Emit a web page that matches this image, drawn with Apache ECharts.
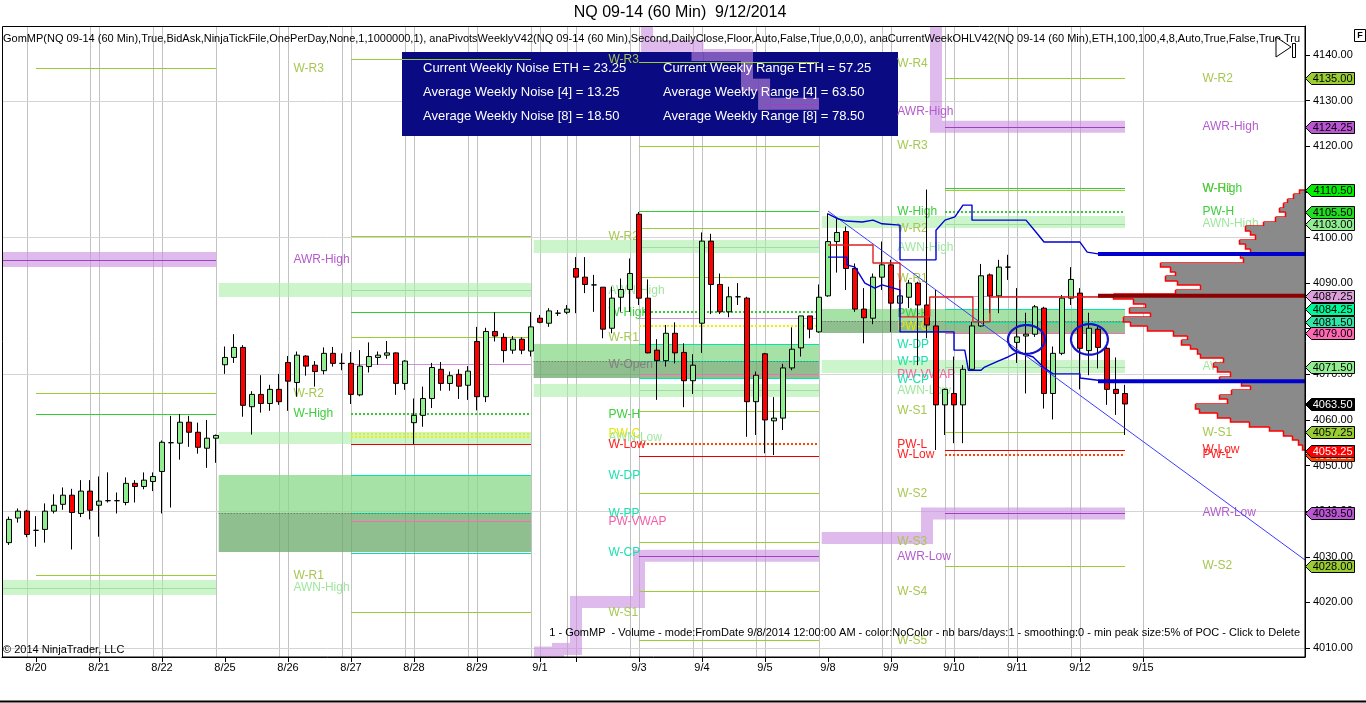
<!DOCTYPE html>
<html><head><meta charset="utf-8">
<script src="https://cdn.jsdelivr.net/npm/echarts/dist/echarts.min.js"></script>
<style>html,body{margin:0;padding:0;background:#fff;overflow:hidden}#c{width:1366px;height:703px}</style>
</head><body><div id="c"></div>
<script>
// ---------------- DATA ----------------
const dayTickIdx = [3,10,17,24,31,38,45,52,59,70,77,84,91,98,105,112,119,126];
const dayLabels  = ['8/20','8/21','8/22','8/25','8/26','8/27','8/28','8/29','9/1','9/3','9/4','9/5','9/8','9/9','9/10','9/11','9/12','9/15'];
const extraTickIdx = [63];
const sessionBreakIdx = [2,9,16,23,30,37,44,51,58,62,69,76,83,90,97,104,111,118];
const dayGridIdx = [10,17,31,38,45,52,59,63,70,77,84,98,105,112,119,126];
const priceTicks = [4010,4020,4030,4040,4050,4060,4070,4080,4090,4100,4110,4120,4130,4140];
const priceGrid = [4010,4040,4070,4100,4130];

// 60-min bars: [open, close, low, high]
const candles = [
[4033.1,4038.2,4032.6,4038.8],[4038.5,4040.0,4037.5,4040.6],[4040.0,4034.9,4034.3,4040.3],[4035.8,4035.8,4032.2,4038.9],
[4036.0,4040.0,4033.1,4041.7],[4040.0,4041.3,4039.5,4043.7],[4041.5,4043.5,4040.3,4045.2],[4043.5,4039.7,4031.6,4044.9],
[4039.5,4044.4,4038.7,4046.8],[4044.4,4040.2,4038.2,4046.8],[4041.3,4042.2,4034.4,4047.6],[4042.3,4042.3,4041.9,4048.5],
[4042.3,4042.3,4039.5,4044.1],[4041.9,4046.1,4041.3,4047.4],[4046.1,4045.4,4041.9,4046.8],[4045.4,4046.8,4044.8,4048.5],
[4046.5,4047.6,4044.4,4048.5],[4048.7,4055.1,4039.5,4055.5],[4055.0,4055.0,4040.8,4060.9],[4054.9,4059.5,4051.3,4061.3],
[4059.5,4057.3,4054.1,4060.9],[4057.3,4054.0,4052.6,4059.4],[4053.8,4056.0,4049.5,4060.0],[4056.0,4056.6,4050.6,4056.8],
[4072.1,4073.7,4070.1,4076.1],[4073.7,4075.9,4072.5,4078.8],[4075.9,4063.2,4060.7,4076.4],[4062.9,4065.6,4056.8,4066.3],
[4065.6,4063.6,4061.6,4069.8],[4063.6,4066.7,4062.0,4067.7],[4066.7,4064.0,4063.3,4070.1],[4072.6,4068.5,4062.0,4074.0],
[4068.2,4074.2,4065.1,4075.0],[4074.0,4071.8,4069.7,4074.2],[4072.0,4070.6,4067.3,4072.9],[4070.8,4074.6,4070.0,4075.9],
[4074.6,4072.4,4071.7,4076.0],[4072.4,4072.4,4070.9,4074.6],[4072.4,4065.6,4063.5,4074.9],[4065.5,4071.8,4065.2,4075.3],
[4071.7,4073.9,4070.4,4077.0],[4073.7,4074.2,4072.1,4075.0],[4074.2,4074.7,4073.4,4077.3],[4074.7,4068.0,4065.5,4074.8],
[4068.0,4072.9,4066.6,4073.1],[4059.4,4061.0,4054.7,4064.7],[4061.0,4064.7,4058.5,4067.3],[4064.7,4071.5,4062.6,4072.5],
[4071.1,4068.0,4066.4,4072.7],[4068.0,4069.7,4066.4,4070.6],[4070.0,4067.4,4064.6,4071.1],[4067.6,4070.7,4064.4,4071.8],
[4077.2,4065.1,4062.1,4080.4],[4065.1,4079.4,4063.9,4080.2],[4079.4,4078.4,4077.2,4083.6],[4078.1,4075.2,4072.6,4079.0],
[4075.3,4077.7,4074.5,4078.4],[4077.7,4075.3,4074.4,4078.1],[4075.1,4080.4,4073.9,4083.6],[4082.3,4081.4,4081.2,4083.0],
[4081.2,4083.9,4080.4,4084.5],[4083.4,4083.4,4082.8,4084.1],[4083.6,4084.3,4083.2,4085.2],[4093.2,4091.3,4083.4,4095.7],
[4091.3,4089.7,4087.8,4095.7],[4089.6,4089.6,4083.7,4091.8],[4089.1,4079.9,4077.9,4089.1],[4080.1,4086.7,4079.0,4089.2],
[4086.9,4088.6,4083.7,4091.0],[4088.6,4092.1,4083.7,4095.4],[4105.1,4086.7,4085.2,4105.6],[4086.7,4074.7,4074.6,4090.8],
[4075.3,4073.0,4064.4,4077.7],[4073.0,4079.0,4071.7,4080.8],[4079.0,4074.7,4072.4,4081.4],[4074.8,4068.6,4062.8,4076.8],
[4068.6,4072.0,4065.7,4074.4],[4081.2,4099.2,4074.7,4101.1],[4099.2,4089.7,4083.2,4100.8],[4089.7,4083.7,4083.2,4092.1],
[4083.7,4087.0,4082.5,4089.2],[4087.0,4087.0,4085.2,4090.0],[4086.7,4064.0,4056.3,4087.0],[4064.0,4069.8,4056.7,4070.6],
[4074.5,4060.0,4052.7,4074.7],[4059.8,4060.4,4052.3,4065.0],[4060.4,4071.4,4057.8,4072.3],[4071.4,4075.5,4070.9,4080.3],
[4075.8,4082.8,4073.9,4082.8],[4082.8,4079.9,4077.9,4082.8],[4079.3,4086.9,4079.1,4089.7],[4087.2,4099.1,4087.0,4105.3],
[4099.1,4101.1,4092.3,4104.2],[4101.3,4093.2,4088.5,4102.4],[4093.2,4084.3,4083.7,4094.3],[4084.3,4082.4,4076.8,4088.9],
[4082.3,4091.3,4081.0,4092.1],[4091.3,4094.0,4088.5,4099.1],[4094.0,4085.6,4079.3,4095.1],[4085.6,4087.2,4083.7,4090.7],
[4086.9,4090.0,4084.5,4090.7],[4090.0,4085.2,4072.0,4090.3],[4085.2,4080.8,4077.9,4110.5],[4080.6,4063.3,4053.4,4088.5],
[4063.3,4066.7,4056.7,4066.9],[4065.8,4063.3,4054.9,4073.9],[4063.3,4071.1,4054.9,4072.0],[4071.1,4080.6,4070.9,4081.5],
[4080.6,4091.6,4080.4,4094.2],[4091.8,4087.2,4083.4,4092.1],[4087.2,4093.5,4083.4,4095.1],[4093.5,4093.5,4090.7,4096.2],
[4077.0,4078.2,4072.5,4088.9],[4078.4,4078.8,4065.8,4083.5],[4078.8,4084.8,4078.2,4085.2],[4084.5,4065.8,4062.5,4084.8],
[4065.8,4074.6,4060.1,4076.1],[4074.6,4086.7,4074.2,4087.4],[4086.7,4090.8,4085.2,4093.5],[4087.8,4075.7,4066.7,4088.9],
[4075.2,4080.1,4069.8,4083.5],[4079.9,4075.9,4071.3,4080.4],[4075.7,4066.7,4063.3,4076.1],[4066.7,4065.8,4061.1,4073.7],
[4065.8,4063.5,4056.7,4067.7]
];

// weekly pivot spans (bar index): lines run Wed..Fri, zones Mon..Fri
const weekLineSpan = [[3,23],[38,58],[70,90],[104,124]];
const weekZoneSpan = [[-0.8,23],[23.3,58],[58.3,90],[90.3,124]];
const weekLabelIdx = [31.6,66.6,98.7,132.6];

// [price, kind]
const w1Levels = [[4137.1,'olive'],[4065.8,'olive'],[4061.2,'green'],[4026.0,'olive']];
const w2Levels = [[4139.1,'olive'],[4100.3,'olive'],[4088.5,'ltgreen'],[4083.6,'green'],[4078.2,'olive'],[4072.2,'lavender'],
  [4061.2,'greenDot'],[4057.0,'yellowDot'],[4056.2,'yellowDot'],[4054.7,'red'],[4047.9,'teal'],[4039.7,'teal'],
  [4037.8,'pink'],[4030.9,'teal'],[4017.8,'olive']];
const w3Levels = [[4138.5,'olive'],[4120.1,'olive'],[4105.8,'green'],[4102.0,'olive'],[4098.0,'ltgreen'],[4091.3,'olive'],
  [4083.6,'greenDot'],[4082.3,'lavender'],[4080.6,'yellowDot'],[4076.6,'teal'],[4072.9,'teal'],[4070.0,'pink'],
  [4069.1,'teal'],[4066.5,'ltgreen'],[4062.0,'olive'],[4054.7,'orangeDot'],[4052.2,'red'],[4043.9,'olive'],
  [4033.2,'olive'],[4022.5,'olive'],[4011.8,'olive']];
const w4Levels = [[4135.0,'olive'],[4110.9,'green'],[4110.3,'olive'],[4105.5,'greenDot'],[4103.0,'ltgreen'],
  [4087.25,'lavender'],[4084.25,'teal'],[4081.5,'teal'],[4079.0,'pink'],[4071.5,'ltgreen'],[4057.25,'olive'],
  [4053.4,'red'],[4052.4,'orangeDot'],[4028.0,'olive']];

// [low, high, kind]
const w1Zones = [[4093.5,4096.8,'purpleBand'],[4021.6,4024.9,'band']];
const w2Zones = [[4087.0,4090.0,'band'],[4054.7,4057.4,'band'],[4039.6,4047.9,'zoneMid'],[4031.0,4039.6,'zoneDark']];
const w3Zones = [[4096.6,4099.4,'band'],[4072.9,4076.6,'zoneMid'],[4069.3,4072.9,'zoneDark'],[4065.1,4067.8,'band']];
const w4Zones = [[4102.0,4104.7,'band'],[4081.6,4084.25,'zoneMid'],[4079.0,4081.6,'zoneDark'],[4070.2,4073.1,'band']];
// [price, kind] lines over whole zone span
const w1ZoneLines = [[4095.1,'purple'],[4023.2,'ltgreen']];
const w2ZoneLines = [[4039.6,'grayDot']];
const w3ZoneLines = [[4072.9,'grayDot']];
const w4ZoneLines = [[4081.6,'grayDot']];

// [text, price, colour key]
const w1Labels = [['W-R3',4136.9,'olive'],['AWR-High',4095.1,'purple'],['W-R2',4065.7,'olive'],['W-High',4061.3,'green'],
  ['W-R1',4025.8,'olive'],['AWN-High',4023.2,'ltgreen']];
const w2Labels = [['W-R3',4138.9,'olive'],['W-R2',4100.1,'olive'],['AWN-High',4088.3,'ltgreen'],['W-High',4083.5,'green'],
  ['W-R1',4078.1,'olive'],['W-Open',4072.1,'gray'],['PW-H',4061.1,'green'],['PW-C',4056.9,'yellow'],['AWN-Low',4056.0,'ltgreen'],
  ['W-Low',4054.5,'red'],['W-DP',4047.7,'teal'],['W-PP',4039.5,'teal'],['PW-VWAP',4037.7,'pink'],['W-CP',4030.9,'teal'],
  ['W-S1',4017.7,'olive']];
const w3Labels = [['W-R4',4138.2,'olive'],['AWR-High',4127.6,'purple'],['W-R3',4120.1,'olive'],['W-High',4105.65,'green'],
  ['W-R2',4101.85,'olive'],['AWN-High',4097.75,'ltgreen'],['W-R1',4091.05,'olive'],['PW-H',4083.4,'green'],['PW-C',4080.4,'yellow'],
  ['W-DP',4076.6,'teal'],['W-PP',4072.8,'teal'],['PW-VWAP',4069.85,'pink'],['W-CP',4068.9,'teal'],['AWN-Low',4066.4,'ltgreen'],
  ['W-S1',4062.0,'olive'],['PW-L',4054.5,'red'],['W-Low',4052.3,'red'],['W-S2',4043.9,'olive'],['W-S3',4033.2,'olive'],
  ['AWR-Low',4030.0,'purple'],['W-S4',4022.3,'olive'],['W-S5',4011.6,'olive']];
const w4Labels = [['W-R2',4134.9,'olive'],['AWR-High',4124.3,'purple'],['W-R1',4110.6,'olive'],['W-High',4110.6,'green'],
  ['PW-H',4105.65,'green'],['AWN-High',4103.1,'ltgreen'],['W-Open',4087.2,'gray'],['W-DP',4084.5,'teal'],['W-PP',4081.5,'teal'],
  ['PW-C',4079.0,'yellow'],['PW-VWAP',4079.0,'pink'],['AWN-Low',4071.7,'ltgreen'],['W-S1',4057.3,'olive'],['W-Low',4053.4,'red'],
  ['PW-L',4052.3,'red'],['AWR-Low',4039.7,'purple'],['W-S2',4028.0,'olive']];

// average weekly range bands, step points: [barIndex, price] (value holds until next point)
const awrW3High = [[58.3,4155],[70.9,4142.0],[76.5,4140.0],[82,4133.5],[83.9,4129.3],[90,4129.3]];
const awrW3Low  = [[58.3,4000],[59,4009.0],[61,4009.8],[63,4020.1],[70,4030.2],[90,4030.2]];
const awrW4High = [[90.3,4155],[103,4124.25],[124,4124.25]];
const awrW4Low  = [[90.3,4034.1],[102,4039.5],[124,4039.5]];
const awrLines = [[83.9,90,4129.3],[70,90,4030.2],[104,124,4124.25],[104,124,4039.5]];

// week-4 developing bands
const blueUpper = [[91,4105.2],[92.1,4104.1],[93,4103.6],[94.8,4103.4],[96,4103.8],[97,4103.0],[99,4102.7],[99,4095.1],
  [103,4095.1],[103,4101.6],[104,4103.8],[105.1,4104.5],[106,4107.1],[107,4107.1],[107,4103.8],[113,4103.8],[114.1,4101.2],
  [115,4099.0],[119,4099.0],[119.8,4096.8],[121,4096.4]];
const blueLower = [[91,4095.7],[93.1,4095.7],[93.1,4094.0],[94,4093.5],[95.1,4090.0],[96.2,4088.9],[97,4089.6],[99,4088.5],
  [99,4079.3],[105,4079.3],[105,4075.3],[106.2,4075.3],[106.6,4070.9],[108,4070.9],[108.4,4071.6],[109.9,4072.9],[111,4073.8],
  [112.1,4074.9],[113.8,4073.8],[114.9,4071.6],[116,4070.1],[119,4070.1],[119,4069.2],[121,4068.7]];
const blueUpperExt = [[121,4096.4],[144,4096.4]];
const blueLowerExt = [[121,4068.5],[144,4068.5]];
const redStep = [[91,4098.35],[96,4098.35],[96,4094.4],[99,4094.4],[99,4082.6],[102.3,4082.6],[102.3,4086.95],[107.1,4086.95],
  [107.1,4081.5],[109,4081.5],[109,4086.95],[124,4086.95]];
const pocLine = [[121,4087.25],[144,4087.25]];
const trendLine = [[91,4105.8],[144,4029.3]];
// [barFrom, barTo, priceLow, priceHigh]
const ellipses = [[111,115.1,4074.5,4080.8],[118,122.1,4074.3,4081.0]];

// volume profile from 9/8 (price level, volume)
const profPrices = [4110,4109,4108,4107,4106,4105,4104,4103,4102,4101,4100,4099,4098,4097,4096,4095,4094,4093,4092,4091,4090,
  4089,4088,4087,4086,4085,4084,4083,4082,4081,4080,4079,4078,4077,4076,4075,4074,4073,4072,4071,4070,4069,4068,4067,4066,4065,
  4064,4063,4062,4061,4060,4059,4058,4057,4056,4055,4054];
const profVol = [60,120,180,220,260,200,300,420,600,550,500,660,600,550,650,620,1450,1350,1300,1400,1280,1050,1300,1920,1720,
  1600,1760,1550,1820,1750,1580,1320,1180,1240,1150,1080,1050,820,920,880,750,860,640,550,740,860,780,1100,1060,880,750,560,
  360,220,130,70,30];

// right-axis price markers
const flagPrices = [4135.00,4124.25,4110.50,4105.50,4103.00,4087.25,4084.25,4081.50,4079.00,4071.50,4063.50,4057.25,4052.25,4053.25,4039.50,4028.00];

const infoLeft  = ['Current Weekly Noise ETH = 23.25','Average Weekly Noise [4] = 13.25','Average Weekly Noise [8] = 18.50'];
const infoRight = ['Current Weekly Range ETH = 57.25','Average Weekly Range [4] = 63.50','Average Weekly Range [8] = 78.50'];

// ---------------- STYLES ----------------
const FONT = '"Liberation Sans", Arial, Helvetica, sans-serif';
const X_MIN = -0.778, X_MAX = 144, Y_MIN = 4008.03, Y_MAX = 4146.36;
const BAND_PURPLE = 'rgba(200,140,225,0.6)';
const flagColors = ['#9acd32','#ba55d3','#00f000','#22dd22','#90ee90','#dda0dd','#00fa9a','#2ee8a8','#ff69b4','#90ee90',
  '#000000','#9acd32','#ff4500','#ff0000','#ba55d3','#9acd32'];
const flagTextColors = flagColors.map(c => (c === '#000000' || c === '#ff0000' || c === '#ff4500') ? '#fff' : '#000');
const LINE_STYLES = {
  olive:{stroke:'#9acd32',lineWidth:1}, green:{stroke:'#32cd32',lineWidth:1},
  greenDot:{stroke:'#32cd32',lineWidth:2,lineDash:[2,2]}, red:{stroke:'#e60000',lineWidth:1},
  orangeDot:{stroke:'#ff4500',lineWidth:2,lineDash:[2,2]}, yellowDot:{stroke:'#eeee00',lineWidth:2,lineDash:[2,2]},
  teal:{stroke:'#00e6a8',lineWidth:1}, pink:{stroke:'#ff69b4',lineWidth:1}, lavender:{stroke:'#d090dc',lineWidth:1},
  purple:{stroke:'#a040c0',lineWidth:1}, ltgreen:{stroke:'#9edf9e',lineWidth:1}, grayDot:{stroke:'#606060',lineWidth:1,lineDash:[1,2]}
};
const lineKinds = Object.keys(LINE_STYLES);
const ZONE_FILLS = {band:'rgba(170,238,170,0.6)', zoneMid:'rgba(136,216,136,0.75)', zoneDark:'rgba(106,168,106,0.75)', purpleBand:BAND_PURPLE};
const zoneKinds = Object.keys(ZONE_FILLS);
const TEXT_COLORS = {olive:'#a6c850', green:'#3ccf3c', ltgreen:'#9ee69e', purple:'#b35ccc', gray:'#808080', yellow:'#e6e600', red:'#ff2020', teal:'#19e3ad', pink:'#f45ea8'};

// ---------------- BUILD ----------------
const levelSets = [w1Levels,w2Levels,w3Levels,w4Levels];
const zoneSets = [w1Zones,w2Zones,w3Zones,w4Zones];
const zoneLineSets = [w1ZoneLines,w2ZoneLines,w3ZoneLines,w4ZoneLines];
const labelSets = [w1Labels,w2Labels,w3Labels,w4Labels];
const awrSteps = [awrW3High, awrW3Low, awrW4High, awrW4Low];

const segData = [];
levelSets.forEach((set, w) => set.forEach(l => segData.push([weekLineSpan[w][0], weekLineSpan[w][1], l[0], lineKinds.indexOf(l[1])])));
zoneLineSets.forEach((set, w) => set.forEach(l => segData.push([weekZoneSpan[w][0], weekZoneSpan[w][1], l[0], lineKinds.indexOf(l[1])])));
awrLines.forEach(l => segData.push([l[0], l[1], l[2], lineKinds.indexOf('purple')]));
const zoneData = [];
zoneSets.forEach((set, w) => set.forEach(z => zoneData.push([weekZoneSpan[w][0], weekZoneSpan[w][1], z[0], z[1], zoneKinds.indexOf(z[2])])));
const allLabels = [];
labelSets.forEach((set, w) => set.forEach(l => allLabels.push([l[0], weekLabelIdx[w], l[1], l[2]])));

const chart = echarts.init(document.getElementById('c'), null, {renderer:'canvas'});

function crisp(v, w){ return (w % 2 === 1) ? Math.round(v) + 0.5 : Math.round(v); }

const series = [];
// grid lines
series.push({type:'custom', z:1, silent:true, data: sessionBreakIdx.concat(dayGridIdx).map(v => [v, Y_MIN]),
  renderItem:(p, api) => { const a = api.coord([api.value(0), Y_MIN]); const b = api.coord([api.value(0), Y_MAX]);
    const x = crisp(a[0],1); return {type:'line', shape:{x1:x,y1:a[1],x2:x,y2:b[1]}, style:{stroke:'#c2c2c2',lineWidth:1}}; }});
series.push({type:'custom', z:1, silent:true, data: priceGrid.map(v => [X_MIN, v]),
  renderItem:(p, api) => { const a = api.coord([X_MIN, api.value(1)]); const b = api.coord([X_MAX, api.value(1)]);
    const y = crisp(a[1],1); return {type:'line', shape:{x1:a[0],y1:y,x2:b[0],y2:y}, style:{stroke:'#d4d4d4',lineWidth:1}}; }});
// zones
series.push({type:'custom', z:3, silent:true, clip:true, data: zoneData,
  renderItem:(p, api) => { const a = api.coord([api.value(0), api.value(3)]); const b = api.coord([api.value(1), api.value(2)]);
    return {type:'rect', shape:{x:a[0], y:Math.round(a[1]), width:b[0]-a[0], height:Math.round(b[1])-Math.round(a[1])},
      style:{fill: ZONE_FILLS[zoneKinds[api.value(4)]]}}; }});
// AWR step bands, 12px thick, drawn as non-overlapping rects
series.push({type:'custom', z:3, silent:true, clip:true, data: awrSteps.map((s, k) => [s[s.length-1][0], s[s.length-1][1]]),
  renderItem:(params, api) => { const s = awrSteps[params.dataIndex]; const H = 6; const kids = [];
    const P = s.map(q => api.coord([q[0], q[1]])); const n = P.length;
    for (let j = 0; j < n - 1; j++) {
      const x0 = (j === 0) ? P[0][0] : P[j][0] + H;
      const x1 = (j + 1 === n - 1) ? P[j+1][0] : P[j+1][0] - H;
      if (x1 > x0) kids.push({type:'rect', shape:{x:x0, y:P[j][1]-H, width:x1-x0, height:2*H}, style:{fill:BAND_PURPLE}});
      if (j + 1 < n - 1) {
        const ya = Math.min(P[j][1], P[j+1][1]) - H, yb = Math.max(P[j][1], P[j+1][1]) + H;
        kids.push({type:'rect', shape:{x:P[j+1][0]-H, y:ya, width:2*H, height:yb-ya}, style:{fill:BAND_PURPLE}});
      }
    }
    return {type:'group', children:kids}; }});
// level lines
series.push({type:'custom', z:4, silent:true, clip:true, data: segData,
  renderItem:(p, api) => { const st = LINE_STYLES[lineKinds[api.value(3)]]; const a = api.coord([api.value(0), api.value(2)]);
    const b = api.coord([api.value(1), api.value(2)]); const y = crisp(a[1], st.lineWidth);
    return {type:'line', shape:{x1:a[0],y1:y,x2:b[0],y2:y}, style:Object.assign({fill:null}, st)}; }});
// level labels
series.push({type:'custom', z:4, silent:true, clip:false, data: allLabels.map(l => [l[1], l[2]]),
  renderItem:(p, api) => { const L = allLabels[p.dataIndex]; const c = api.coord([api.value(0), api.value(1)]);
    return {type:'text', x:c[0], y:c[1], style:{text:L[0], fill:TEXT_COLORS[L[3]], font:'12px '+FONT, align:'left', verticalAlign:'middle'}}; }});
// candles
series.push({type:'candlestick', z:6, silent:true, barWidth:6, animation:false,
  data: candles.map((c, i) => [i, c[0], c[1], c[2], c[3]]),
  itemStyle:{color:'#90ee90', color0:'#ff0000', borderColor:'#000', borderColor0:'#000', borderColorDoji:'#000', borderWidth:1}});
// developing lines
const lineS = (d, color, width, z) => ({type:'line', z:z, silent:true, data:d, symbol:'none', animation:false, lineStyle:{color:color, width:width}});
series.push(lineS(trendLine, '#3c3cff', 1, 7));
series.push(lineS(redStep, '#e02020', 1.4, 7));
series.push(lineS(blueUpper, '#0000d8', 1.4, 7));
series.push(lineS(blueLower, '#0000d8', 1.4, 7));
// volume profile (multiply blend)
series.push({type:'custom', z:8, silent:true, clip:true, xAxisIndex:1, yAxisIndex:0,
  data: profPrices.map((p, k) => [profVol[k], p]),
  renderItem:(params, api) => { const k = params.dataIndex; const v = api.value(0), pr = api.value(1);
    const a = api.coord([v, pr + 0.5]); const b = api.coord([v, pr - 0.5]); const r = api.coord([0, pr])[0];
    const top = Math.round(a[1]), bot = Math.round(b[1]), left = Math.round(a[0]);
    const kids = [{type:'rect', shape:{x:left, y:top, width:r-left, height:bot-top}, style:{fill:'#8a8a8a', blend:'multiply'}}];
    const nextV = k + 1 < profVol.length ? profVol[k+1] : 0; const nl = Math.round(api.coord([nextV, pr])[0]);
    const pts = [[left+0.5, top],[left+0.5, bot],[nl+0.5, bot]];
    if (k === 0) pts.unshift([r, top]);
    kids.push({type:'polyline', shape:{points:pts}, style:{stroke:'#ff0000', lineWidth:1.5, fill:null}});
    return {type:'group', children:kids}; }});
series.push(lineS(pocLine, '#8b0000', 4, 9));
series.push(lineS(blueUpperExt, '#0000cc', 4, 9));
series.push(lineS(blueLowerExt, '#0000cc', 4, 9));
// ellipses
series.push({type:'custom', z:10, silent:true, data: ellipses,
  renderItem:(p, api) => { const a = api.coord([api.value(0), api.value(3)]); const b = api.coord([api.value(1), api.value(2)]);
    const cx = (a[0]+b[0])/2, cy = (a[1]+b[1])/2, rx = Math.abs(b[0]-a[0])/2, ry = Math.abs(b[1]-a[1])/2; const pts = [];
    for (let t = 0; t < 64; t++) { const ang = t/64*Math.PI*2; pts.push([cx + rx*Math.cos(ang), cy + ry*Math.sin(ang)]); }
    return {type:'polygon', shape:{points:pts}, style:{fill:null, stroke:'#1414c8', lineWidth:2.2}}; }});
// price flags
series.push({type:'custom', z:20, silent:true, clip:false, data: flagPrices.map(p => [X_MAX, p]),
  renderItem:(params, api) => { const k = params.dataIndex; const c = api.coord([X_MAX, api.value(1)]);
    const x = Math.round(c[0]) + 0.5, y = Math.round(c[1]) + 0.5;
    return {type:'group', children:[
      {type:'polygon', shape:{points:[[x,y],[x+6,y-6],[x+49,y-6],[x+49,y+6],[x+6,y+6]]}, style:{fill:flagColors[k], stroke:'#000', lineWidth:1}},
      {type:'text', x:x+47, y:y, style:{text:api.value(1).toFixed(2), fill:flagTextColors[k], font:'11px '+FONT, align:'right', verticalAlign:'middle'}}]}; }});

const option = {
  animation:false,
  backgroundColor:'#fff',
  grid:{left:2, top:26, right:61, bottom:46, show:false, containLabel:false, outerBoundsMode:'none'},
  xAxis:[
    {type:'value', min:X_MIN, max:X_MAX, splitLine:{show:false},
      axisLine:{show:true, onZero:false, lineStyle:{color:'#000', width:1}},
      axisTick:{show:true, customValues: dayTickIdx.concat(extraTickIdx), length:5, lineStyle:{color:'#000'}},
      axisLabel:{show:true, customValues: dayTickIdx, margin:5, color:'#000', fontSize:11, fontFamily:FONT,
        formatter: v => { const k = dayTickIdx.indexOf(Math.round(v)); return k >= 0 ? dayLabels[k] : ''; }}},
    {type:'value', min:0, max:13030, inverse:true, show:false, splitLine:{show:false},
      axisLine:{show:false, onZero:false}, axisTick:{show:false}, axisLabel:{show:false}}
  ],
  yAxis:[{type:'value', position:'right', min:Y_MIN, max:Y_MAX, splitLine:{show:false},
    axisLine:{show:true, onZero:false, lineStyle:{color:'#000'}},
    axisTick:{show:true, customValues: priceTicks, length:5, lineStyle:{color:'#000'}},
    minorTick:{show:false},
    axisLabel:{show:true, customValues: priceTicks, margin:8, color:'#000', fontSize:11, fontFamily:FONT, formatter: v => v.toFixed(2)}}],
  series: series,
  graphic:[
    {type:'rect', z:2, silent:true, shape:{x:402, y:52, width:496, height:84}, style:{fill:'#0a0a82'}},
    ...infoLeft.map((t, k) => ({type:'text', z:30, silent:true, x:423, y:68 + k*24, style:{text:t, fill:'#fff', font:'13px '+FONT, verticalAlign:'middle'}})),
    ...infoRight.map((t, k) => ({type:'text', z:30, silent:true, x:663, y:68 + k*24, style:{text:t, fill:'#fff', font:'13px '+FONT, verticalAlign:'middle'}})),
    {type:'text', z:30, silent:true, x:680, y:13, style:{text:'NQ 09-14 (60 Min)  9/12/2014', fill:'#000', font:'16px '+FONT, align:'center', verticalAlign:'middle'}},
    {type:'text', z:30, silent:true, x:3, y:39, style:{text:'GomMP(NQ 09-14 (60 Min),True,BidAsk,NinjaTickFile,OnePerDay,None,1,1000000,1), anaPivotsWeeklyV42(NQ 09-14 (60 Min),Second,DailyClose,Floor,Auto,False,True,0,0,0), anaCurrentWeekOHLV42(NQ 09-14 (60 Min),ETH,100,100,4,8,Auto,True,False,True,True)', fill:'#000', font:'11px '+FONT, verticalAlign:'middle', width:1300, overflow:'truncate', ellipsis:''}},
    {type:'text', z:30, silent:true, x:1300, y:633, style:{text:'1 - GomMP  - Volume - mode:FromDate 9/8/2014 12:00:00 AM - color:NoColor - nb bars/days:1 - smoothing:0 - min peak size:5% of POC - Click to Delete', fill:'#000', font:'11px '+FONT, align:'right', verticalAlign:'middle'}},
    {type:'text', z:30, silent:true, x:3, y:650, style:{text:'\u00a9 2014 NinjaTrader, LLC', fill:'#000', font:'11px '+FONT, verticalAlign:'middle'}},
    {type:'rect', z:40, silent:true, shape:{x:2.5, y:26.5, width:1302.5, height:630.5}, style:{fill:null, stroke:'#000', lineWidth:1}},
    {type:'polygon', z:40, silent:true, shape:{points:[[1276,37],[1291,47],[1276,57]]}, style:{fill:'#fff', stroke:'#000', lineWidth:1}},
    {type:'rect', z:40, silent:true, shape:{x:1292.5, y:43.5, width:3, height:14}, style:{fill:'#fff', stroke:'#000', lineWidth:1}},
    {type:'rect', z:40, silent:true, shape:{x:1354.5, y:29.5, width:11, height:12}, style:{fill:'#fff', stroke:'#000', lineWidth:1}},
    {type:'text', z:41, silent:true, x:1360, y:36, style:{text:'F', fill:'#000', font:'bold 9px '+FONT, align:'center', verticalAlign:'middle'}},
    {type:'line', z:40, silent:true, shape:{x1:0, y1:701.5, x2:1366, y2:701.5}, style:{stroke:'#000', lineWidth:2}}
  ]
};
chart.setOption(option);
</script></body></html>
